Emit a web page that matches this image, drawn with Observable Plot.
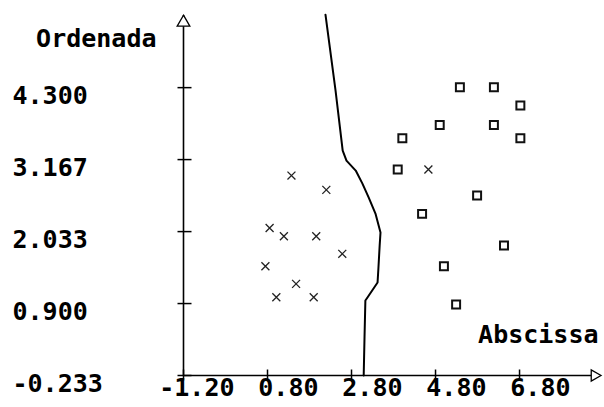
<!DOCTYPE html>
<html>
<head>
<meta charset="utf-8">
<script src="https://cdn.jsdelivr.net/npm/d3@7"></script>
<script src="https://cdn.jsdelivr.net/npm/@observablehq/plot@0.6"></script>
<style>
  html, body { margin: 0; padding: 0; background: #fff; }
</style>
</head>
<body>
<div id="chart"></div>
<script>
// Axis setup
const xDomain = [-1.2, 8.68];
const yDomain = [-0.233, 5.436];
const xTicks = [-1.2, 0.8, 2.8, 4.8, 6.8];
const xTickLabels = ["-1.20", "0.80", "2.80", "4.80", "6.80"];
const yTicks = [-0.233, 0.9, 2.033, 3.167, 4.3];
const yTickLabels = ["-0.233", "0.900", "2.033", "3.167", "4.300"];
const xTitle = "Abscissa";
const yTitle = "Ordenada";

// Class 1 (crosses)
const crossX = [1.37, 2.20, 0.85, 1.19, 1.96, 2.58, 0.75, 1.48, 1.01, 1.90, 4.63];
const crossY = [2.915, 2.69, 2.09, 1.96, 1.96, 1.683, 1.488, 1.21, 1.0, 1.0, 3.01];

// Class 2 (squares)
const squareX = [5.38, 6.19, 6.82, 4.90, 6.19, 4.01, 6.82, 3.90, 5.79, 4.48, 6.43, 5.00, 5.29];
const squareY = [4.305, 4.305, 4.017, 3.713, 3.713, 3.502, 3.502, 3.01, 2.60, 2.312, 1.813, 1.488, 0.885];

// Decision boundary
const boundaryX = [2.18, 2.42, 2.59, 2.68, 2.90, 3.06, 3.21, 3.37, 3.49, 3.47, 3.44, 3.42, 3.18, 3.13, 3.11, 3.09];
const boundaryY = [5.449, 4.253, 3.309, 3.151, 2.994, 2.789, 2.569, 2.317, 2.018, 1.813, 1.451, 1.231, 0.995, 0.948, 0.381, -0.233];

const crosses = crossX.map((x, i) => ({x, y: crossY[i]}));
const squares = squareX.map((x, i) => ({x, y: squareY[i]}));
const boundary = boundaryX.map((x, i) => ({x, y: boundaryY[i]}));

const font = "'DejaVu Sans Mono', monospace";

const vTick = { draw(ctx) { ctx.moveTo(0, -6); ctx.lineTo(0, 5); } };
const hTick = { draw(ctx) { ctx.moveTo(-6, 0); ctx.lineTo(8, 0); } };

const chart = Plot.plot({
  width: 604,
  height: 407,
  marginLeft: 183,
  marginRight: 6,
  marginTop: 15,
  marginBottom: 32,
  x: { domain: xDomain, axis: null },
  y: { domain: yDomain, axis: null },
  style: { fontFamily: font, background: "#fff", color: "#000" },
  marks: [
    Plot.ruleX([xDomain[0]], { stroke: "#000", strokeWidth: 1.6 }),
    Plot.ruleY([yDomain[0]], { stroke: "#000", strokeWidth: 1.6 }),
    Plot.dot(xTicks, { x: d => d, y: () => yDomain[0], symbol: vTick, stroke: "#000", strokeWidth: 1.5, fill: "none" }),
    Plot.dot(yTicks, { y: d => d, x: () => xDomain[0], symbol: hTick, stroke: "#000", strokeWidth: 1.5, fill: "none" }),
    Plot.line(boundary, { x: "x", y: "y", stroke: "#000", strokeWidth: 2, curve: "linear" }),
    Plot.dot(crosses, { x: "x", y: "y", symbol: "times", r: 3.7, stroke: "#222", strokeWidth: 1.3 }),
    Plot.dot(squares, { x: "x", y: "y", symbol: "square", r: 4.5, stroke: "#111", strokeWidth: 2, fill: "#fff" }),
    Plot.dot([0], { x: () => xDomain[0], y: () => yDomain[1], symbol: "triangle", r: 4.7, dy: 7, fill: "#fff", stroke: "#000", strokeWidth: 1.3 }),
    Plot.dot([0], { x: () => xDomain[1], y: () => yDomain[0], symbol: "triangle", r: 4.2, rotate: 90, dx: -4, fill: "#fff", stroke: "#000", strokeWidth: 1.3 }),
    Plot.text(yTickLabels, { y: (d, i) => yTicks[i], text: d => d, frameAnchor: "left", textAnchor: "start", dx: -171, dy: 8, fontSize: 25, fontWeight: "bold", fill: "#000" }),
    Plot.text(xTickLabels, { x: (d, i) => xTicks[i], text: d => d, frameAnchor: "bottom", textAnchor: "end", dx: 51, dy: 20, fontSize: 25, fontWeight: "bold", fill: "#000" }),
    Plot.text([yTitle], { text: d => d, frameAnchor: "top-left", textAnchor: "end", dx: -27, dy: 14, fontSize: 25, fontWeight: "bold", fill: "#000" }),
    Plot.text([xTitle], { text: d => d, frameAnchor: "bottom-right", textAnchor: "end", dx: 0, dy: -33, fontSize: 25, fontWeight: "bold", fill: "#000" })
  ]
});
document.getElementById("chart").appendChild(chart);
</script>
</body>
</html>
